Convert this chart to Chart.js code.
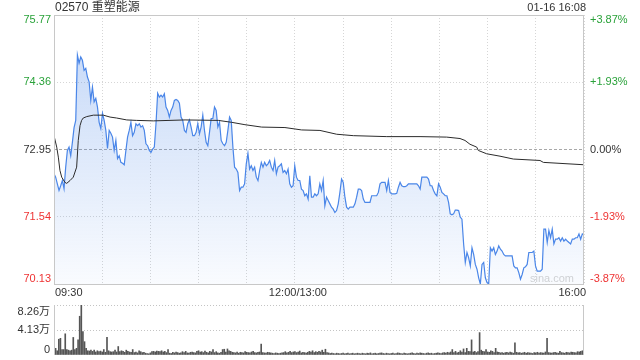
<!DOCTYPE html>
<html><head><meta charset="utf-8">
<script src="https://cdn.jsdelivr.net/npm/chart.js@4/dist/chart.umd.min.js"></script>
<style>
html,body{margin:0;padding:0;background:#fff;}
#wrap{position:relative;width:640px;height:360px;overflow:hidden;}
#c1{position:absolute;left:0;top:0;}
#c2{position:absolute;left:0;top:298px;}
</style></head><body>
<div id="wrap"><canvas id="c1" width="640" height="298"></canvas><canvas id="c2" width="640" height="62"></canvas></div>
<script>
const title = '02570 重塑能源';
const stamp = '01-16 16:08';
const watermark = 'sina.com';
const prevClose = 72.95;
const priceTicks = [75.77, 74.36, 72.95, 71.54, 70.13];
const pctTicks = ['+3.87%', '+1.93%', '0.00%', '-1.93%', '-3.87%'];
const timeLabels = ['09:30', '12:00/13:00', '16:00'];
const timeLabelMinutes = [0, 150, 330];
const gridMinutes = [0, 30, 60, 90, 120, 150, 180, 210, 240, 270, 300, 330];
const volTicks = [8.26, 4.13, 0];
const volTickLabels = ['8.26万', '4.13万', '0'];

const prices = [
72.44,72.37,72.23,72.09,72.19,72.30,72.13,72.58,72.93,73.00,
72.82,73.10,73.41,73.56,74.93,74.76,74.89,74.82,74.61,74.65,
74.47,74.37,73.98,74.26,73.95,74.02,73.84,73.52,73.39,73.71,
73.56,73.35,72.97,73.35,73.29,73.21,72.93,73.14,72.76,72.82,
72.68,72.66,72.63,72.93,73.21,73.35,73.52,73.24,73.31,73.49,
73.45,73.49,73.42,73.45,73.35,73.07,73.03,72.93,72.89,72.96,
73.00,73.49,74.13,74.05,74.09,74.05,74.12,73.84,73.77,73.63,
73.77,73.84,73.98,74.00,73.98,73.92,73.63,73.56,73.35,73.31,
73.49,
73.57,73.42,73.24,73.24,73.31,73.49,73.28,73.42,73.67,73.35,
73.10,73.03,73.31,73.60,73.60,73.84,73.77,73.42,73.52,73.14,
73.07,73.03,73.10,73.35,73.63,73.56,73.00,72.58,72.54,72.47,
72.09,72.16,72.16,72.23,72.65,72.87,72.54,72.61,72.51,72.58,
72.37,72.30,72.51,72.68,72.58,72.68,72.61,72.65,72.72,72.58,
72.51,72.72,72.44,72.58,72.61,72.65,72.47,72.51,72.44,72.54,
72.23,72.16,72.19,72.61,72.37,72.30,72.30,72.12,72.09,71.98,
72.02,71.91,72.40,71.95,71.95,72.02,71.98,72.02,
72.23,72.09,72.30,71.77,71.95,71.88,71.81,71.74,71.70,71.63,
71.67,71.81,72.05,72.33,72.26,71.95,71.74,71.70,71.74,71.74,
71.74,71.81,71.95,72.12,72.12,72.09,71.91,71.84,71.84,71.84,
71.84,71.98,71.98,71.98,71.98,72.05,72.23,72.26,72.26,72.26,
72.09,72.30,72.05,72.02,72.02,72.02,72.03,72.16,72.26,72.19,
72.17,72.17,72.19,72.23,72.23,72.23,72.23,72.23,72.23,72.19,
72.12,72.37,72.37,72.37,72.37,72.33,72.19,72.19,72.09,72.02,
71.98,72.23,72.16,
72.05,72.02,71.98,71.98,71.84,71.60,71.58,71.60,71.68,71.68,
71.67,71.53,71.49,70.97,70.58,70.79,70.68,70.51,70.89,70.75,
70.54,70.44,70.26,70.13,70.54,70.58,70.26,70.16,70.13,70.89,
70.82,70.89,70.75,70.82,70.93,70.86,70.82,70.75,70.72,70.72,
70.72,70.72,70.72,70.51,70.47,70.47,70.37,70.23,70.33,70.47,
70.49,70.54,70.79,70.79,70.79,70.82,70.51,70.40,70.40,70.40,
70.44,71.28,71.28,71.00,71.25,71.10,71.28,70.97,71.07,71.07,
71.10,71.03,71.10,71.03,71.07,71.03,71.00,70.97,71.07,71.07,
71.10,71.10,71.18,71.07,71.18,71.16
];

const avgMinutes = [0,1.7,2.7,3.7,4.8,6.8,7.9,10,12,14.1,
15.1,16.2,17.2,18.2,20.4,24.5,30.7,34.9,39,45.3,
51.5,61.8,81.6,102.3,110.6,118.9,129.3,143.8,154.2,165.6,
176,186.4,207.2,227.9,244.5,252.8,255.9,259,263.2,264.2,
269.4,277.7,286,302.6,304.7,330];
const avgValues = [73.24,73.00,72.79,72.51,72.37,72.26,72.24,72.30,72.37,72.58,
73.14,73.45,73.56,73.61,73.64,73.67,73.67,73.63,73.61,73.57,
73.56,73.55,73.57,73.56,73.52,73.47,73.42,73.41,73.36,73.35,
73.27,73.24,73.22,73.22,73.21,73.18,73.14,73.06,73.00,72.93,
72.86,72.81,72.75,72.72,72.68,72.63];

const volumes = [
1.93,1.10,0.70,2.60,2.75,0.90,0.90,3.50,0.90,0.80,
0.70,0.80,2.90,0.90,1.10,2.50,6.40,8.26,3.85,2.20,
1.10,0.70,0.66,0.80,0.60,0.80,0.50,0.70,0.55,0.65,
0.50,0.90,0.45,2.90,0.70,0.55,0.50,0.55,0.80,0.50,
1.40,0.55,0.70,0.60,0.45,0.80,0.60,0.50,0.45,0.90,
0.40,0.50,0.35,0.70,0.55,0.40,0.45,0.30,0.25,0.20,
0.35,0.55,0.60,0.50,0.65,0.60,0.55,0.70,0.50,0.60,
0.40,0.90,0.30,0.25,0.45,0.35,0.50,0.40,0.30,0.35,
0.55,0.40,0.60,0.35,0.30,0.45,0.50,0.40,0.35,0.60,
0.70,0.50,0.55,0.40,0.65,0.45,0.35,0.60,0.50,0.90,
0.40,0.55,0.35,0.30,0.45,0.90,0.95,0.50,1.00,0.70,
0.60,0.45,0.40,0.35,0.50,0.30,0.45,0.40,0.35,0.55,
0.45,0.40,0.35,0.50,0.60,0.40,0.35,0.45,0.50,1.80,
0.40,0.35,0.30,0.45,0.40,0.35,0.30,0.25,0.35,0.30,
0.25,0.30,0.35,0.40,0.55,0.35,0.45,0.60,0.40,0.50,
0.55,0.40,0.50,0.65,0.35,0.45,0.40,0.30,0.45,0.60,
0.50,0.70,0.40,0.55,0.45,0.60,0.50,0.80,0.45,0.95,
0.40,0.35,0.25,0.30,0.25,0.20,0.30,0.25,0.20,0.25,
0.30,0.20,0.25,0.30,0.20,0.25,0.30,0.20,0.25,0.30,
0.25,0.20,0.30,0.25,0.20,0.30,0.25,0.35,0.20,0.25,
0.30,0.20,0.25,0.30,0.35,0.25,0.20,0.30,0.25,0.20,
0.25,0.30,0.20,0.25,0.35,0.30,0.25,0.20,0.30,0.25,
0.20,0.25,0.30,0.35,0.25,0.20,0.30,0.25,0.35,0.30,
0.25,0.20,0.30,0.35,0.25,0.30,0.20,0.25,0.30,0.35,
0.30,0.25,0.35,0.40,0.30,0.45,0.35,0.50,0.90,0.40,
0.60,0.35,0.45,0.70,0.50,1.00,0.40,1.10,0.60,0.55,
2.50,0.50,0.60,0.40,0.55,3.70,0.80,0.60,0.55,0.90,
0.50,0.45,0.70,0.60,0.40,1.10,0.50,0.45,0.35,0.40,
0.30,0.40,0.45,0.35,0.50,0.40,0.30,2.00,0.45,0.35,
0.40,0.30,0.35,0.45,0.30,0.40,0.35,0.30,0.25,0.40,
0.35,0.45,0.30,0.40,0.35,0.30,0.50,2.75,0.40,0.35,
0.30,0.40,0.45,0.35,0.30,0.60,0.40,0.35,0.30,0.45,
0.40,0.35,0.50,0.45,0.40,0.35,0.55,0.50,0.60,0.70,
0.80
];
const volumeMinutes = volumes.map((_, i) => String(i));

const GREEN = '#2aa23a', RED = '#ee3333', DARK = '#333333';
const FONT = '"Liberation Sans", Arial, "Noto Sans CJK SC", sans-serif';
function tickColor(v){ return v > prevClose + 1e-9 ? GREEN : (v < prevClose - 1e-9 ? RED : DARK); }

const mainLabels = {
  id: 'mainLabels',
  afterDraw(chart){
    const {ctx, chartArea: ca, scales} = chart;
    const ys = scales.y, xs = scales.x;
    ctx.save();
    ctx.strokeStyle = '#c8c8c8'; ctx.lineWidth = 1; ctx.setLineDash([]);
    ctx.strokeRect(Math.round(ca.left) + 0.5, Math.round(ca.top) + 0.5, Math.round(ca.right - ca.left) - 1, Math.round(ca.bottom - ca.top));
    ctx.textBaseline = 'middle';
    ctx.font = '12px ' + FONT; ctx.fillStyle = DARK; ctx.textAlign = 'left';
    ctx.fillText(title, ca.left + 1, 8);
    ctx.font = '11px ' + FONT; ctx.textAlign = 'right';
    ctx.fillText(stamp, ca.right + 2, 8);
    priceTicks.forEach((v, i) => {
      let y = ys.getPixelForValue(v);
      if (i === 0) y += 5;
      if (i === priceTicks.length - 1) y -= 5;
      ctx.fillStyle = tickColor(v);
      ctx.textAlign = 'right'; ctx.fillText(v.toFixed(2), ca.left - 3, y);
      ctx.textAlign = 'left'; ctx.fillText(pctTicks[i], ca.right + 6, y);
    });
    ctx.fillStyle = DARK;
    timeLabels.forEach((t, i) => {
      const x = xs.getPixelForValue(timeLabelMinutes[i]);
      ctx.textAlign = i === 0 ? 'left' : (i === timeLabels.length - 1 ? 'right' : 'center');
      ctx.fillText(t, i === 0 ? x + 1 : (i === timeLabels.length - 1 ? x + 2 : x + 3), ca.bottom + 9);
    });
    ctx.fillStyle = 'rgba(0,0,0,0.18)'; ctx.textAlign = 'center';
    ctx.fillText(watermark, 552, ca.bottom - 5);
    ctx.restore();
  }
};

const volLabels = {
  id: 'volLabels',
  afterDraw(chart){
    const {ctx, chartArea: ca, scales} = chart;
    const ys = scales.y;
    ctx.save();
    ctx.strokeStyle = '#c8c8c8'; ctx.lineWidth = 1;
    ctx.beginPath();
    ctx.moveTo(Math.round(ca.left) + 0.5, ca.top); ctx.lineTo(Math.round(ca.left) + 0.5, ca.bottom);
    ctx.moveTo(Math.round(ca.right) - 0.5, ca.top); ctx.lineTo(Math.round(ca.right) - 0.5, ca.bottom);
    ctx.stroke();
    ctx.font = '11px ' + FONT; ctx.fillStyle = DARK; ctx.textBaseline = 'middle'; ctx.textAlign = 'right';
    volTicks.forEach((v, i) => {
      let y = ys.getPixelForValue(v);
      if (i === 0) y += 7;
      if (i === volTicks.length - 1) y -= 5;
      ctx.fillText(volTickLabels[i], ca.left - 4, y);
    });
    ctx.restore();
  }
};

new Chart(document.getElementById('c1'), {
  type: 'line',
  data: { datasets: [
    { label: '均价', data: avgMinutes.map((m, i) => ({x: m, y: avgValues[i]})),
      borderColor: '#2b2b2b', borderWidth: 1, pointRadius: 0, fill: false, tension: 0, order: 0 },
    { label: '价格', data: prices.map((p, i) => ({x: i * 330 / (prices.length - 1), y: p})),
      borderColor: '#4a86e8', borderWidth: 1.2, pointRadius: 0, tension: 0, order: 1,
      fill: 'start',
      backgroundColor: (c) => {
        const ca = c.chart.chartArea;
        if (!ca) return 'rgba(74,134,232,0.15)';
        const g = c.chart.ctx.createLinearGradient(0, ca.top, 0, ca.bottom);
        g.addColorStop(0, 'rgba(74,134,232,0.34)');
        g.addColorStop(1, 'rgba(74,134,232,0.03)');
        return g;
      } }
  ]},
  options: {
    responsive: false, animation: false, devicePixelRatio: 1,
    layout: { padding: { left: 54, right: 56, top: 15, bottom: 14 } },
    plugins: { legend: { display: false }, tooltip: { enabled: false } },
    scales: {
      x: { type: 'linear', min: 0, max: 330,
        afterBuildTicks: s => { s.ticks = gridMinutes.map(v => ({value: v})); },
        ticks: { display: false }, grid: { color: '#d6d6d6', drawTicks: false, lineWidth: 1 },
        border: { display: false, dash: [1, 2] } },
      y: { type: 'linear', min: 70.13, max: 75.77,
        afterBuildTicks: s => { s.ticks = priceTicks.map(v => ({value: v})); },
        ticks: { display: false },
        grid: { drawTicks: false, lineWidth: 1,
          color: c => (c.tick && Math.abs(c.tick.value - prevClose) < 1e-6) ? '#a8a8a8' : '#d6d6d6' },
        border: { display: false,
          dash: c => (c.tick && Math.abs(c.tick.value - prevClose) < 1e-6) ? [3, 2] : [1, 2] } }
    }
  },
  plugins: [mainLabels]
});

new Chart(document.getElementById('c2'), {
  type: 'bar',
  data: { labels: volumeMinutes, datasets: [{ label: '成交量', data: volumes,
    backgroundColor: '#555555', borderWidth: 0, barThickness: 1 }] },
  options: {
    responsive: false, animation: false, devicePixelRatio: 1,
    layout: { padding: { left: 54, right: 56, top: 7, bottom: 5 } },
    plugins: { legend: { display: false }, tooltip: { enabled: false } },
    scales: {
      x: { type: 'category', offset: false, display: false, grid: { offset: false } },
      y: { type: 'linear', min: 0, max: 8.26,
        afterBuildTicks: s => { s.ticks = volTicks.map(v => ({value: v})); },
        ticks: { display: false },
        grid: { drawTicks: false, lineWidth: 1, color: c => (c.tick && c.tick.value === 0) ? 'rgba(0,0,0,0)' : '#c4c4c4' },
        border: { display: false, dash: [1, 2] } }
    }
  },
  plugins: [volLabels]
});
</script>
</body></html>
